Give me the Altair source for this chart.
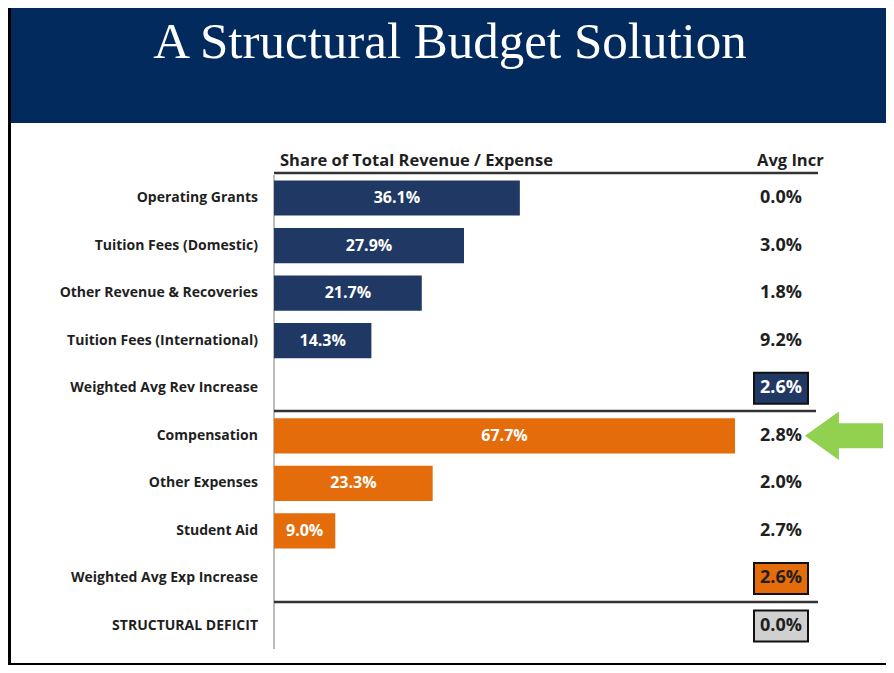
import altair as alt
import pandas as pd

# ---- data ----
title_text = "A Structural Budget Solution"
header_share = "Share of Total Revenue / Expense"
header_incr = "Avg Incr"
categories = [
    "Operating Grants",
    "Tuition Fees (Domestic)",
    "Other Revenue & Recoveries",
    "Tuition Fees (International)",
    "Weighted Avg Rev Increase",
    "Compensation",
    "Other Expenses",
    "Student Aid",
    "Weighted Avg Exp Increase",
    "STRUCTURAL DEFICIT",
]
groups = ["Revenue"] * 5 + ["Expense"] * 4 + ["Deficit"]
shares = [36.1, 27.9, 21.7, 14.3, None, 67.7, 23.3, 9.0, None, None]
avg_incr = [0.0, 3.0, 1.8, 9.2, 2.6, 2.8, 2.0, 2.7, 2.6, 0.0]
boxed = [False, False, False, False, True, False, False, False, True, True]
highlighted = "Compensation"

# ---- styling ----
W, H = 878, 657
NAVY_BAND = "#022a5c"
NAVY = "#1f3864"
ORANGE = "#e46c0a"
GRAY_BOX = "#d0d0d0"
GREEN = "#92d050"
TXT = "#1f1f1f"
FONT = "Open Sans"

df = pd.DataFrame({
    "cat": categories,
    "group": groups,
    "share": shares,
    "incr": avg_incr,
    "boxed": boxed,
})
df["share_label"] = [f"{v:.1f}%" if v is not None and v == v else "" for v in df["share"]]
df["incr_label"] = [f"{v:.1f}%" for v in df["incr"]]

xscale = alt.Scale(domain=[0, 100], range=[266, 266 + 681], zero=True, nice=False)
yscale = alt.Scale(domain=categories, range=[166.2, 641.8], paddingInner=0.26, paddingOuter=0.13)
Y = alt.Y("cat:N", scale=yscale, sort=categories, axis=None)

base = alt.Chart(df)

band = alt.Chart(pd.DataFrame({"t": [title_text]})).mark_rect(color=NAVY_BAND).encode(
    x=alt.value(0), x2=alt.value(W), y=alt.value(0), y2=alt.value(115)
)
title = alt.Chart(pd.DataFrame({"t": [title_text]})).mark_text(
    font="Liberation Serif", fontSize=51, color="white", align="center", baseline="alphabetic"
).encode(x=alt.value(442), y=alt.value(50), text="t:N")

bars = base.transform_filter("isValid(datum.share)").mark_bar().encode(
    x=alt.X("share:Q", scale=xscale, axis=None),
    y=Y,
    color=alt.Color("group:N", scale=alt.Scale(domain=["Revenue", "Expense"], range=[NAVY, ORANGE]), legend=None),
)
bar_text = base.transform_filter("isValid(datum.share)").transform_calculate(
    mid="datum.share / 2"
).mark_text(font=FONT, fontWeight="bold", fontSize=16, color="white", baseline="middle").encode(
    x=alt.X("mid:Q", scale=xscale, axis=None), y=Y, text="share_label:N"
)

row_labels = base.mark_text(
    font=FONT, fontWeight="bold", fontSize=14, color=TXT, align="right", baseline="middle"
).encode(x=alt.value(250), y=Y, text="cat:N")

boxes = base.transform_filter("datum.boxed").mark_rect(stroke="#111", strokeWidth=2, height=31).encode(
    x=alt.value(746), x2=alt.value(800), y=Y,
    fill=alt.Fill("group:N", scale=alt.Scale(domain=["Revenue", "Expense", "Deficit"], range=[NAVY, ORANGE, GRAY_BOX]), legend=None),
)
incr_text = base.mark_text(font=FONT, fontWeight="bold", fontSize=18, baseline="middle", align="center").encode(
    x=alt.value(773), y=Y, text="incr_label:N",
    color=alt.condition("datum.cat === 'Weighted Avg Rev Increase'", alt.value("white"), alt.value(TXT)),
)

hdr = pd.DataFrame({"a": [header_share], "b": [header_incr]})
hdr_share = alt.Chart(hdr).mark_text(font=FONT, fontWeight="bold", fontSize=16.5, color=TXT, align="left", baseline="middle").encode(
    x=alt.value(272), y=alt.value(153), text="a:N")
hdr_incr = alt.Chart(hdr).mark_text(font=FONT, fontWeight="bold", fontSize=16.5, color=TXT, align="left", baseline="middle").encode(
    x=alt.value(749), y=alt.value(153), text="b:N")

axis_rule = alt.Chart(hdr).mark_rule(color="#bdbdbd", strokeWidth=2).encode(
    x=alt.value(266), y=alt.value(167), y2=alt.value(641))
hline1 = alt.Chart(hdr).mark_rule(color="#333", strokeWidth=2.5).encode(
    x=alt.value(266), x2=alt.value(810), y=alt.value(165))
hline2 = alt.Chart(hdr).mark_rule(color="#333", strokeWidth=2.5).encode(
    x=alt.value(266), x2=alt.value(808), y=alt.value(403))
hline3 = alt.Chart(hdr).mark_rule(color="#333", strokeWidth=2.5).encode(
    x=alt.value(266), x2=alt.value(810), y=alt.value(594))

arrow_path = "M-1,0 L-0.13,-0.62 L-0.13,-0.32 L1,-0.32 L1,0.32 L-0.13,0.32 L-0.13,0.62 Z"
arrow = alt.Chart(pd.DataFrame({"cat": [highlighted]})).mark_point(
    shape=arrow_path, filled=True, color=GREEN, opacity=1, size=78 * 78, strokeWidth=0
).encode(x=alt.value(836), y=Y)

border_left = alt.Chart(hdr).mark_rule(color="black", strokeWidth=3).encode(
    x=alt.value(1.5), y=alt.value(0), y2=alt.value(H))
border_bottom = alt.Chart(hdr).mark_rule(color="black", strokeWidth=2).encode(
    x=alt.value(0), x2=alt.value(W), y=alt.value(H - 1))

chart = alt.layer(
    band, title, axis_rule, hline1, hline2, hline3, bars, bar_text, row_labels,
    boxes, incr_text, hdr_share, hdr_incr, arrow, border_left, border_bottom,
).resolve_scale(color="independent").properties(
    width=W, height=H, autosize=alt.AutoSizeParams(type="none"), padding=0, background="white"
).configure_view(stroke=None)

chart.save("out.html", embed_options={"renderer": "svg", "actions": False})
